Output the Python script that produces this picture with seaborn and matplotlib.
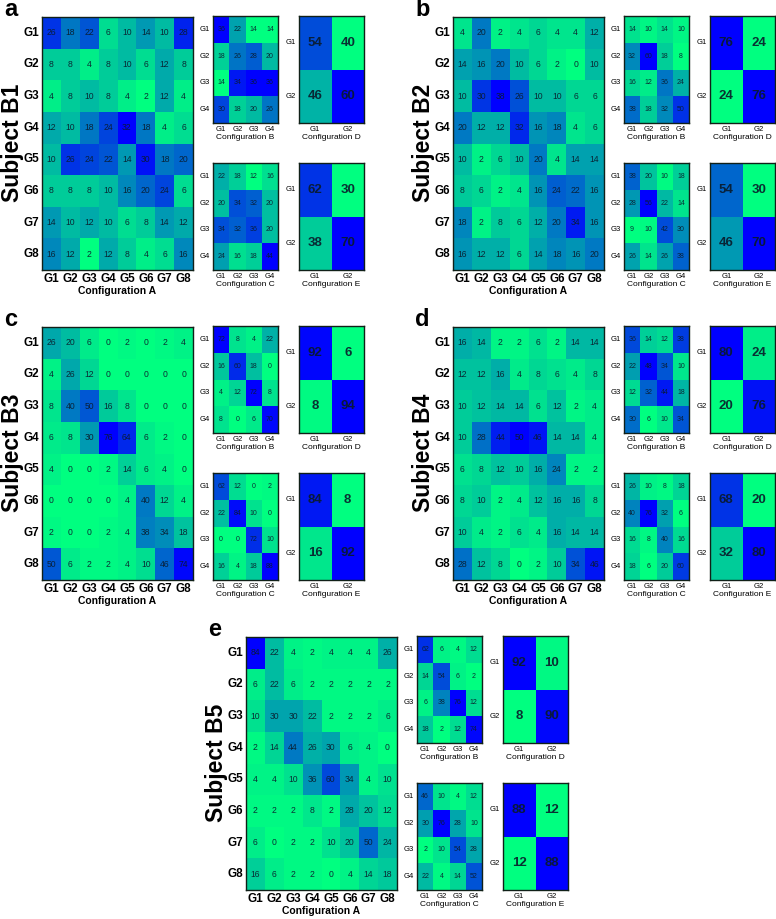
import numpy as np
import matplotlib
matplotlib.use("Agg")
import matplotlib.pyplot as plt
import seaborn as sns

groups8 = ['G1', 'G2', 'G3', 'G4', 'G5', 'G6', 'G7', 'G8']
groups4 = ['G1', 'G2', 'G3', 'G4']
groups2 = ['G1', 'G2']
subjects = ['Subject B1', 'Subject B2', 'Subject B3', 'Subject B4', 'Subject B5']
letters = ['a', 'b', 'c', 'd', 'e']

# Subject B1
b1_a = [[26, 18, 22, 6, 10, 14, 10, 28],
        [8, 8, 4, 8, 10, 6, 12, 8],
        [4, 8, 10, 8, 4, 2, 12, 4],
        [12, 10, 18, 24, 32, 18, 4, 6],
        [10, 26, 24, 22, 14, 30, 18, 20],
        [8, 8, 8, 10, 16, 20, 24, 6],
        [14, 10, 12, 10, 6, 8, 14, 12],
        [16, 12, 2, 12, 8, 4, 6, 16]]
b1_b = [[36, 22, 14, 14], [18, 26, 28, 20], [14, 34, 36, 36], [30, 18, 20, 26]]
b1_c = [[22, 18, 12, 16], [20, 34, 32, 20], [34, 32, 36, 20], [24, 16, 18, 44]]
b1_d = [[54, 40], [46, 60]]
b1_e = [[62, 30], [38, 70]]

# Subject B2
b2_a = [[4, 20, 2, 4, 6, 4, 4, 12],
        [14, 16, 20, 10, 6, 2, 0, 10],
        [10, 30, 38, 26, 10, 10, 6, 6],
        [20, 12, 12, 32, 16, 18, 4, 6],
        [10, 2, 6, 10, 20, 4, 14, 14],
        [8, 6, 2, 4, 16, 24, 22, 16],
        [18, 2, 8, 6, 12, 20, 34, 16],
        [16, 12, 12, 6, 14, 18, 16, 20]]
b2_b = [[14, 10, 14, 10], [32, 60, 18, 8], [16, 12, 36, 24], [38, 18, 32, 50]]
b2_c = [[38, 20, 10, 18], [28, 56, 22, 14], [9, 10, 42, 30], [26, 14, 26, 38]]
b2_d = [[76, 24], [24, 76]]
b2_e = [[54, 30], [46, 70]]

# Subject B3
b3_a = [[26, 20, 6, 0, 2, 0, 2, 4],
        [4, 26, 12, 0, 0, 0, 0, 0],
        [8, 40, 50, 16, 8, 0, 0, 0],
        [6, 8, 30, 76, 64, 6, 2, 0],
        [4, 0, 0, 2, 14, 6, 4, 0],
        [0, 0, 0, 0, 4, 40, 12, 4],
        [2, 0, 0, 2, 4, 38, 34, 18],
        [50, 6, 2, 2, 4, 10, 46, 74]]
b3_b = [[72, 8, 4, 22], [16, 60, 18, 0], [4, 12, 72, 8], [8, 0, 6, 70]]
b3_c = [[62, 12, 0, 2], [22, 84, 10, 0], [0, 0, 72, 10], [16, 4, 18, 88]]
b3_d = [[92, 6], [8, 94]]
b3_e = [[84, 8], [16, 92]]

# Subject B4
b4_a = [[16, 14, 2, 2, 6, 2, 14, 14],
        [12, 12, 16, 4, 8, 6, 4, 8],
        [10, 12, 14, 14, 6, 12, 2, 4],
        [10, 28, 44, 50, 46, 14, 14, 4],
        [6, 8, 12, 10, 16, 24, 2, 2],
        [8, 10, 2, 4, 12, 16, 16, 8],
        [10, 4, 2, 6, 4, 16, 14, 14],
        [28, 12, 8, 0, 2, 10, 34, 46]]
b4_b = [[36, 14, 12, 38], [22, 48, 34, 10], [12, 32, 44, 18], [30, 6, 10, 34]]
b4_c = [[26, 10, 8, 18], [40, 76, 32, 6], [16, 8, 40, 16], [18, 6, 20, 60]]
b4_d = [[80, 24], [20, 76]]
b4_e = [[68, 20], [32, 80]]

# Subject B5
b5_a = [[84, 22, 4, 2, 4, 4, 4, 26],
        [6, 22, 6, 2, 2, 2, 2, 2],
        [10, 30, 30, 22, 2, 2, 2, 6],
        [2, 14, 44, 26, 30, 6, 4, 0],
        [4, 4, 10, 36, 60, 34, 4, 10],
        [2, 2, 2, 8, 2, 28, 20, 12],
        [6, 0, 2, 2, 10, 20, 50, 24],
        [16, 6, 2, 2, 0, 4, 14, 18]]
b5_b = [[62, 6, 4, 12], [14, 54, 6, 2], [6, 38, 76, 12], [18, 2, 12, 74]]
b5_c = [[46, 10, 4, 12], [30, 76, 28, 10], [2, 10, 54, 28], [22, 4, 14, 52]]
b5_d = [[92, 10], [8, 90]]
b5_e = [[88, 12], [12, 88]]

panels = [
    (b1_a, b1_b, b1_c, b1_d, b1_e),
    (b2_a, b2_b, b2_c, b2_d, b2_e),
    (b3_a, b3_b, b3_c, b3_d, b3_e),
    (b4_a, b4_b, b4_c, b4_d, b4_e),
    (b5_a, b5_b, b5_c, b5_d, b5_e),
]
# top-left pixel of each big matrix
origins = [(42, 17), (453, 17), (42, 327), (453, 327), (246, 637)]

sns.set_theme(style='white')
plt.rcParams['font.family'] = ['Liberation Sans', 'DejaVu Sans']
plt.rcParams['text.color'] = 'black'
plt.rcParams['axes.labelcolor'] = 'black'
plt.rcParams['xtick.color'] = 'black'
plt.rcParams['ytick.color'] = 'black'

W, H = 776, 919
fig = plt.figure(figsize=(W / 100, H / 100), dpi=100)


def px_axes(x, y, w, h):
    return fig.add_axes([x / W, 1 - (y + h) / H, w / W, h / H])


def draw(ax, data, labels, xlabel, annot_size, tick_size, label_size, bold, annot_bold=False):
    sns.heatmap(np.array(data), ax=ax, cmap='winter_r', cbar=False,
                annot=True, fmt='d',
                annot_kws={'fontsize': annot_size, 'color': '#0a1a2a', 'alpha': 0.9,
                           'fontweight': 'bold' if annot_bold else 'normal'},
                xticklabels=labels, yticklabels=labels)
    weight = 'bold' if bold else 'normal'
    ax.set_yticklabels(labels, rotation=0, fontsize=tick_size, fontweight=weight)
    ax.set_xticklabels(labels, rotation=0, fontsize=tick_size, fontweight=weight)
    ax.tick_params(length=0, pad=2)
    ax.set_xlabel(xlabel, fontsize=label_size, fontweight=weight, labelpad=1)
    for s in ax.spines.values():
        s.set_visible(True)
        s.set_color('#102018')
        s.set_linewidth(1.0)


for (mat_a, mat_b, mat_c, mat_d, mat_e), (x0, y0), subj, let in zip(panels, origins, subjects, letters):
    ax = px_axes(x0, y0, 151, 253)
    draw(ax, mat_a, groups8, 'Configuration A', 6.2, 8.5, 7.5, True)

    ax = px_axes(x0 + 171, y0 - 1, 65, 107)
    draw(ax, mat_b, groups4, 'Configuration B', 5, 5.5, 6, False)
    ax = px_axes(x0 + 171, y0 + 146, 65, 107)
    draw(ax, mat_c, groups4, 'Configuration C', 5, 5.5, 6, False)
    ax = px_axes(x0 + 257, y0 - 1, 65, 107)
    draw(ax, mat_d, groups2, 'Configuration D', 9.5, 5.5, 6, False, annot_bold=True)
    ax = px_axes(x0 + 257, y0 + 146, 65, 107)
    draw(ax, mat_e, groups2, 'Configuration E', 9.5, 5.5, 6, False, annot_bold=True)

    fig.text((x0 - 29) / W, 1 - (y0 + 126) / H, subj, rotation=90,
             fontsize=16.5, fontweight='bold', ha='center', va='center')
    fig.text((x0 - 38) / W, 1 - (y0 - 1) / H, let,
             fontsize=17, fontweight='bold', ha='left', va='baseline')

fig.savefig('out.png', dpi=100)
